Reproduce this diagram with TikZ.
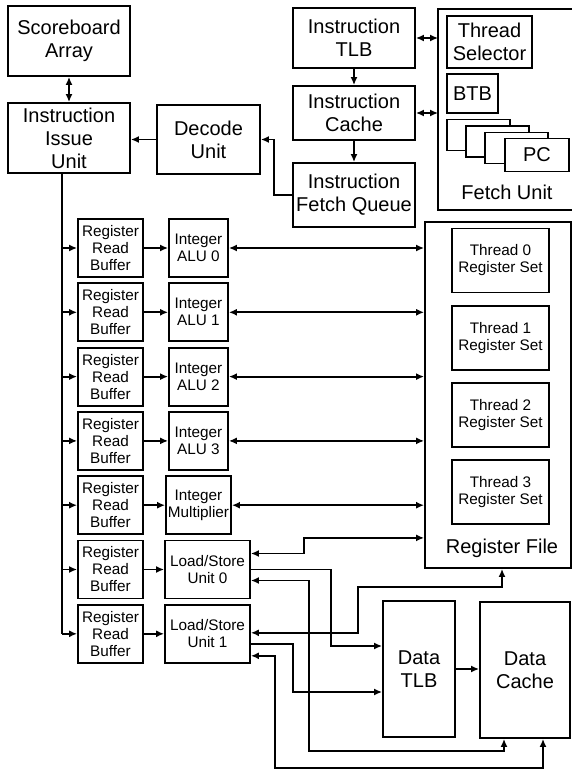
\documentclass[tikz,border=0pt]{standalone}
\usepackage{fontspec}
\setmainfont{Liberation Sans}
\usetikzlibrary{positioning,arrows.meta}

\begin{document}
\begin{tikzpicture}[x=1pt,y=-1pt,line width=1.8pt,
  font=\fontsize{20}{23}\selectfont,
  blk/.style={draw,fill=white,inner sep=1pt,align=center},
  sml/.style={font=\fontsize{15.3}{17}\selectfont},
  arr/.style={-{Latex[length=8pt,width=7pt]}},
  darr/.style={{Latex[length=8pt,width=7pt]}-{Latex[length=8pt,width=7pt]}}]
  \useasboundingbox (0,0) rectangle (572,771);
  % front end
  \node[blk,minimum width=122pt,minimum height=70pt] (sb) at (69,41) {Scoreboard\\Array};
  \node[blk,minimum width=122pt,minimum height=70pt] (iiu) at (69,138) {Instruction\\Issue\\Unit};
  \node[blk,minimum width=103pt,minimum height=69pt] (dec) at (208.5,139.5) {Decode\\Unit};
  \node[blk,minimum width=122pt,minimum height=60pt] (itlb) at (354,38) {Instruction\\TLB};
  \node[blk,minimum width=122pt,minimum height=54pt] (ic) at (354,113) {Instruction\\Cache};
  \node[blk,minimum width=122pt,minimum height=64pt] (ifq) at (354,195) {Instruction\\Fetch Queue};
  % fetch unit, open on the right
  \node[minimum width=133pt,minimum height=199pt,inner sep=0pt] (fu) at (505.5,109.5) {};
  \draw (fu.north east) -- (fu.north west) -- (fu.south west) -- (fu.south east);
  \node[blk,minimum width=85pt,minimum height=52pt] (tsel) at (489.5,42) {Thread\\Selector};
  \node[blk,minimum width=51pt,minimum height=39pt] (btb) at (472.5,93.5) {BTB};
  \node[blk,minimum width=63pt,minimum height=31pt] (pc0) at (478.5,135) {};
  \node[blk,minimum width=63pt,minimum height=31pt] (pc1) at (497.5,141.5) {};
  \node[blk,minimum width=63pt,minimum height=31pt] (pc2) at (516.5,148) {};
  \node[blk,minimum width=64pt,minimum height=33pt] (pc3) at (537,155) {PC};
  \node (fulbl) at (507,192) {Fetch Unit};
  \draw[darr] (sb) -- (iiu);
  \draw[arr] (dec.west) -- (dec.west -| iiu.east);
  \draw[arr] (ifq.west) -- ++(-18,0) |- (dec.east);
  \draw[arr] (itlb) -- (ic);
  \draw[arr] (ic) -- (ifq);
  \draw[darr] (itlb.east) -- (itlb.east -| fu.west);
  \draw[darr] (ic.east) -- (ic.east -| fu.west);
  % register file
  \node[blk,minimum width=146pt,minimum height=346pt] (rf) at (498,395) {};
  \node[blk,sml,minimum width=97pt,minimum height=64pt] (ts0) at (500.5,260.5) {Thread 0\\Register Set};
  \node[blk,sml,minimum width=97pt,minimum height=64pt] (ts1) at (500.5,338) {Thread 1\\Register Set};
  \node[blk,sml,minimum width=97pt,minimum height=64pt] (ts2) at (500.5,415) {Thread 2\\Register Set};
  \node[blk,sml,minimum width=97pt,minimum height=64pt] (ts3) at (500.5,492) {Thread 3\\Register Set};
  \node (rflbl) at (502,548) {Register File};
  % read buffers and execution units
  \node[blk,sml,minimum width=65pt,minimum height=58pt] (rb0) at (110.5,248) {Register\\Read\\Buffer};
  \node[blk,sml,minimum width=65pt,minimum height=58pt] (rb1) at (110.5,312.3) {Register\\Read\\Buffer};
  \node[blk,sml,minimum width=65pt,minimum height=58pt] (rb2) at (110.5,376.6) {Register\\Read\\Buffer};
  \node[blk,sml,minimum width=65pt,minimum height=58pt] (rb3) at (110.5,440.9) {Register\\Read\\Buffer};
  \node[blk,sml,minimum width=65pt,minimum height=58pt] (rb4) at (110.5,505.2) {Register\\Read\\Buffer};
  \node[blk,sml,minimum width=65pt,minimum height=58pt] (rb5) at (110.5,569.5) {Register\\Read\\Buffer};
  \node[blk,sml,minimum width=65pt,minimum height=58pt] (rb6) at (110.5,633.8) {Register\\Read\\Buffer};
  \node[blk,sml,minimum width=59pt,minimum height=58pt] (alu0) at (198.5,248) {Integer\\ALU 0};
  \node[blk,sml,minimum width=59pt,minimum height=58pt] (alu1) at (198.5,312.3) {Integer\\ALU 1};
  \node[blk,sml,minimum width=59pt,minimum height=58pt] (alu2) at (198.5,376.6) {Integer\\ALU 2};
  \node[blk,sml,minimum width=59pt,minimum height=58pt] (alu3) at (198.5,440.9) {Integer\\ALU 3};
  \node[blk,sml,minimum width=65pt,minimum height=58pt] (mul) at (198.5,505.2) {Integer\\Multiplier};
  \node[blk,sml,minimum width=85pt,minimum height=58pt] (ls0) at (207.5,569.5) {Load/Store\\Unit 0};
  \node[blk,sml,minimum width=85pt,minimum height=58pt] (ls1) at (207.5,633.8) {Load/Store\\Unit 1};
  % data side
  \node[blk,minimum width=72pt,minimum height=136pt] (dtlb) at (419,669) {Data\\TLB};
  \node[blk,minimum width=90pt,minimum height=136pt] (dc) at (525,670) {Data\\Cache};
  % issue bus
  \coordinate (bus) at ([xshift=-7pt]iiu.south);
  \draw (bus) -- (bus |- rb6.west);
  \foreach \r in {rb0,rb1,rb2,rb3,rb4,rb5,rb6}
    \draw[arr] (bus |- \r.west) -- (\r.west);
  \draw[arr] (rb0) -- (alu0);
  \draw[arr] (rb1) -- (alu1);
  \draw[arr] (rb2) -- (alu2);
  \draw[arr] (rb3) -- (alu3);
  \draw[arr] (rb4) -- (mul);
  \draw[arr] (rb5) -- (ls0);
  \draw[arr] (rb6) -- (ls1);
  \draw[darr] (alu0.east) -- (alu0.east -| rf.west);
  \draw[darr] (alu1.east) -- (alu1.east -| rf.west);
  \draw[darr] (alu2.east) -- (alu2.east -| rf.west);
  \draw[darr] (alu3.east) -- (alu3.east -| rf.west);
  \draw[darr] (mul.east) -- (mul.east -| rf.west);
  % load/store paths
  \draw[darr] ([yshift=16pt]ls0.east) -- ++(53,0) |- ([yshift=31pt]rf.south west);
  \draw[arr] (ls0.east) -- ++(80,0) |- ([yshift=23pt]dtlb.west);
  \draw[darr] ([xshift=-21pt]dc.south) -- ++(0,12) -| (309,580.5) -- ([yshift=-11pt]ls0.east);
  \draw[darr] ([xshift=4pt]rf.south) -- ++(0,18) -| (358,632.8) -- ([yshift=1pt]ls1.east);
  \draw[arr] ([yshift=-10pt]ls1.east) -- ++(42,0) |- ([yshift=-23pt]dtlb.west);
  \draw[darr] ([xshift=18pt]dc.south) -- ++(0,29) -| (275,655.8) -- ([yshift=-22pt]ls1.east);
  \draw[arr] (dtlb.east) -- (dtlb.east -| dc.west);
\end{tikzpicture}
\end{document}
